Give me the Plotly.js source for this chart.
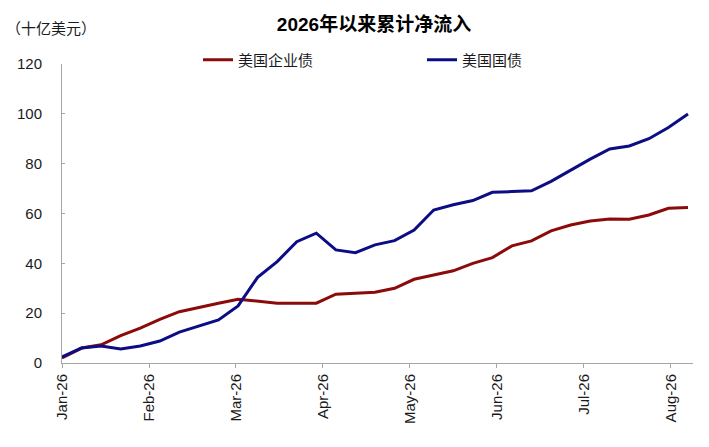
<!DOCTYPE html>
<html>
<head>
<meta charset="utf-8">
<script src="https://cdn.plot.ly/plotly-3.0.1.min.js"></script>
<style>
  html, body { margin: 0; padding: 0; background: #fff; }
  #chart { width: 709px; height: 447px; }
</style>
</head>
<body>
<div id="chart"></div>
<script>
// weekly observation dates
const weeks = [
  '2026-01-01', '2026-01-08', '2026-01-15', '2026-01-22', '2026-01-29',
  '2026-02-05', '2026-02-12', '2026-02-19', '2026-02-26',
  '2026-03-05', '2026-03-12', '2026-03-19', '2026-03-26',
  '2026-04-02', '2026-04-09', '2026-04-16', '2026-04-23', '2026-04-30',
  '2026-05-07', '2026-05-14', '2026-05-21', '2026-05-28',
  '2026-06-04', '2026-06-11', '2026-06-18', '2026-06-25',
  '2026-07-02', '2026-07-09', '2026-07-16', '2026-07-23', '2026-07-30',
  '2026-08-06', '2026-08-13'
];

// cumulative net inflow, billion USD
const corpBonds = [
  2, 6, 7.3, 11, 14, 17.5, 20.6, 22.4, 24,
  25.6, 24.9, 24, 24, 24, 27.6, 28, 28.4, 30,
  33.6, 35.3, 37, 40, 42.3, 47, 49, 53,
  55.4, 57, 57.8, 57.7, 59.4, 62.1, 62.4
];
const treasuries = [
  2.5, 6, 6.8, 5.6, 6.8, 8.8, 12.4, 14.9, 17.3,
  22.9, 34.4, 40.7, 48.7, 52.1, 45.4, 44.3, 47.4, 49.1,
  53.4, 61.4, 63.5, 65.2, 68.5, 68.8, 69.1, 72.9,
  77.5, 81.8, 85.9, 87.1, 90, 94.5, 99.9
];

const seriesNames = ['美国企业债', '美国国债'];

const fontFam = '"Liberation Sans", Arial, "Noto Sans CJK SC", sans-serif';
const axisGray = '#a6a6a6';

const data = [
  {
    type: 'scatter',
    mode: 'lines',
    name: seriesNames[0],
    x: weeks,
    y: corpBonds,
    line: { color: '#8b0a0a', width: 3 }
  },
  {
    type: 'scatter',
    mode: 'lines',
    name: seriesNames[1],
    x: weeks,
    y: treasuries,
    line: { color: '#0c0c84', width: 3 }
  }
];

const layout = {
  width: 709,
  height: 447,
  margin: { l: 62, r: 16, t: 64, b: 84, autoexpand: false },
  paper_bgcolor: '#fff',
  plot_bgcolor: '#fff',
  font: { family: fontFam, size: 15, color: '#1a1a1a' },
  title: {
    text: '<b>2026年以来累计净流入</b>',
    font: { family: fontFam, size: 19, color: '#000' },
    xref: 'container', x: 374 / 709, xanchor: 'center',
    yref: 'container', y: 1 - 24 / 447, yanchor: 'middle'
  },
  showlegend: true,
  legend: {
    orientation: 'h',
    xref: 'container', x: 198 / 709, xanchor: 'left',
    yref: 'container', y: 1 - 60 / 447, yanchor: 'middle',
    itemwidth: 30,
    entrywidth: 179,
    font: { family: fontFam, size: 15, color: '#1a1a1a' },
    bgcolor: 'rgba(0,0,0,0)'
  },
  xaxis: {
    type: 'date',
    range: ['2026-01-01', '2026-08-14 19:00'],
    tick0: '2026-01-01',
    dtick: 31.13 * 86400000,
    tickformat: '%b-%y',
    tickangle: -90,
    ticks: 'outside',
    ticklen: 4,
    tickcolor: axisGray,
    showline: true,
    linecolor: axisGray,
    linewidth: 1,
    showgrid: false,
    zeroline: false,
    tickfont: { family: fontFam, size: 15, color: '#1a1a1a' }
  },
  yaxis: {
    range: [0, 120],
    dtick: 20,
    ticks: 'inside',
    ticklen: 3,
    tickcolor: axisGray,
    showline: true,
    linecolor: axisGray,
    linewidth: 1,
    showgrid: false,
    zeroline: false,
    ticklabelstandoff: 16,
    tickfont: { family: fontFam, size: 15, color: '#1a1a1a' }
  },
  annotations: [
    {
      text: '（十亿美元）',
      xref: 'paper', x: (4 - 62) / 631, xanchor: 'left',
      yref: 'paper', y: (363 - 28) / 299, yanchor: 'middle',
      showarrow: false,
      font: { family: fontFam, size: 15, color: '#1a1a1a' }
    }
  ]
};

Plotly.newPlot('chart', data, layout, { displayModeBar: false, staticPlot: true });
</script>
</body>
</html>
